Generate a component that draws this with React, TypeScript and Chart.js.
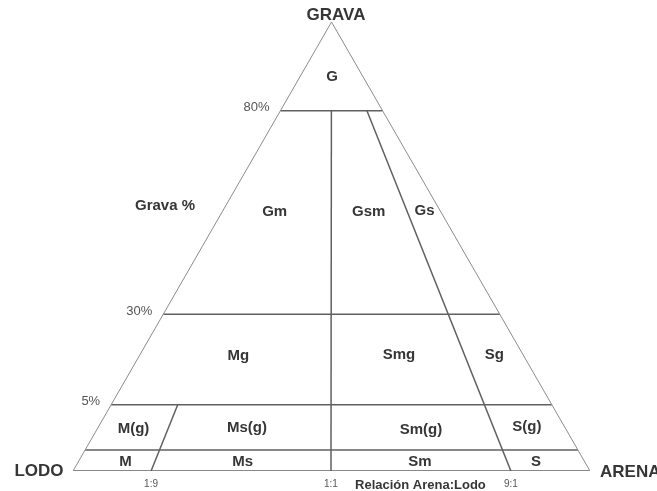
import React, { useEffect, useRef } from "react";
import { Chart, registerables } from "chart.js";

Chart.register(...registerables);

// ---- Data (Folk-type ternary diagram: Grava / Arena / Lodo) ----
const vertexLabels = ["GRAVA", "LODO", "ARENA"];
const gravelLevelLabels = ["80%", "30%", "5%", ""];
const gravelLevelPct = [80, 30, 5, 0.01];
// schematic (non-linear) height of each gravel boundary in the drawing, 0 = base, 1 = apex
const gravelLevelHeight = [0.8025, 0.349, 0.1477, 0.0468];
const ratioLabels = ["1:9", "1:1", "9:1"];
// position of each sand:mud ratio on the base (0 = LODO, 1 = ARENA)
const ratioBase = [0.151, 0.499, 0.847];
// index of the gravel level where each ratio line stops
const ratioTopLevel = [2, 0, 0];
const axisTitle = "Relación Arena:Lodo";
const gravelTitle = "Grava %";
const classNames = [
  "G", "Gm", "Gsm", "Gs",
  "Mg", "Smg", "Sg",
  "M(g)", "Ms(g)", "Sm(g)", "S(g)",
  "M", "Ms", "Sm", "S",
];

// ---- Layout (label anchor positions in diagram units) ----
const classLabelPos: [number, number][] = [
  [0.501, 0.877], [0.39, 0.577], [0.572, 0.577], [0.68, 0.579],
  [0.32, 0.257], [0.6306, 0.258], [0.815, 0.258],
  [0.117, 0.0935], [0.3366, 0.0958], [0.673, 0.0913], [0.878, 0.098],
  [0.1015, 0.0207], [0.328, 0.0207], [0.671, 0.0207], [0.8955, 0.0212],
];

const FONT = "'Liberation Sans', Arial, Helvetica, sans-serif";
const EDGE = "#8c8c8c";
const LINE = "#606060";
const TEXT = "#363636";
const TICK = "#555555";

type P = { x: number; y: number };

function buildDatasets() {
  const ds: any[] = [];
  const mk = (data: P[], color: string, width: number) => ({
    data,
    showLine: true,
    borderColor: color,
    borderWidth: width,
    pointRadius: 0,
    fill: false,
    tension: 0,
  });
  // triangle sides
  ds.push(mk([{ x: 0, y: 0 }, { x: 0.5, y: 1 }, { x: 1, y: 0 }], EDGE, 1));
  ds.push(mk([{ x: 0, y: 0 }, { x: 1, y: 0 }], LINE, 1.5));
  // gravel level lines
  gravelLevelHeight.forEach((h) => {
    ds.push(mk([{ x: h / 2, y: h }, { x: 1 - h / 2, y: h }], LINE, 1.5));
  });
  // sand:mud ratio lines (towards apex)
  ratioBase.forEach((r, i) => {
    const top = gravelLevelHeight[ratioTopLevel[i]];
    ds.push(mk([{ x: r, y: 0 }, { x: r + (0.5 - r) * top, y: top }], LINE, 1.5));
  });
  return ds;
}

const textPlugin = {
  id: "ternaryText",
  afterDatasetsDraw(chart: any) {
    const { ctx, scales } = chart;
    const X = (u: number) => scales.x.getPixelForValue(u);
    const Y = (v: number) => scales.y.getPixelForValue(v);
    const draw = (t: string, x: number, y: number, font: string, color: string, align: CanvasTextAlign = "center") => {
      ctx.save();
      ctx.font = font;
      ctx.fillStyle = color;
      ctx.textAlign = align;
      ctx.textBaseline = "middle";
      ctx.fillText(t, x, y);
      ctx.restore();
    };
    const bold = (s: number) => `bold ${s}px ${FONT}`;
    const norm = (s: number) => `${s}px ${FONT}`;

    // vertices
    draw(vertexLabels[0], X(0.5) + 4.5, Y(1) - 7, bold(17), TEXT);
    draw(vertexLabels[1], X(0) - 34, Y(0), bold(17), TEXT);
    draw(vertexLabels[2], X(1) + 10, Y(0) + 1, bold(17), TEXT, "left");

    // gravel level labels
    gravelLevelHeight.forEach((h, i) => {
      const t = gravelLevelLabels[i];
      if (!t) return;
      draw(t, X(h / 2) - 11, Y(h) - 3, norm(13), TICK, "right");
    });
    draw(gravelTitle, X(0.178), Y(0.59), bold(15), TEXT);

    // ratio labels
    ratioBase.forEach((r, i) => {
      draw(ratioLabels[i], X(r), Y(0) + 13.5, norm(10), TICK);
    });
    draw(axisTitle, X(0.5455), Y(0) + 14, bold(13), TEXT, "left");

    // class names
    classNames.forEach((n, i) => {
      const [u, v] = classLabelPos[i];
      draw(n, X(u), Y(v), bold(15), TEXT);
    });
  },
};

export default function App() {
  const ref = useRef<HTMLCanvasElement>(null);
  useEffect(() => {
    if (!ref.current) return;
    const chart = new Chart(ref.current, {
      type: "scatter",
      data: { datasets: buildDatasets() },
      options: {
        animation: false,
        responsive: false,
        devicePixelRatio: 1,
        layout: { padding: { left: 73, right: 67, top: 22, bottom: 20 } },
        scales: {
          x: { type: "linear", min: 0, max: 1, display: false },
          y: { type: "linear", min: 0, max: 1, display: false },
        },
        plugins: { legend: { display: false }, tooltip: { enabled: false } },
        events: [],
      },
      plugins: [textPlugin],
    });
    return () => chart.destroy();
  }, []);
  return (
    <div style={{ position: "fixed", left: 0, top: 0, width: 657, height: 491, background: "#fff" }}>
      <canvas ref={ref} width={657} height={491} style={{ width: 657, height: 491 }} />
    </div>
  );
}
